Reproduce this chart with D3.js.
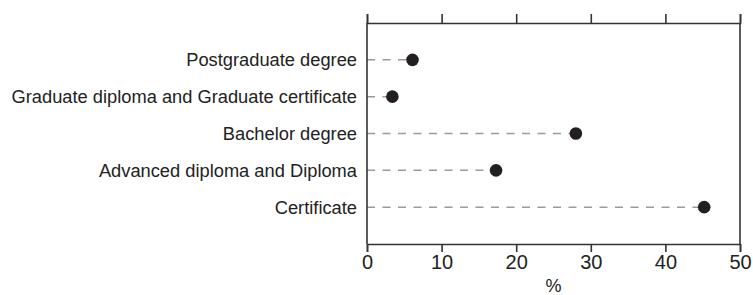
<!DOCTYPE html>
<html>
<head>
<meta charset="utf-8">
<script src="https://cdn.jsdelivr.net/npm/d3@7"></script>
<style>
body{margin:0;background:#fff;}
svg{display:block;font-family:"Liberation Sans",Arial,sans-serif;}
</style>
</head>
<body>
<script>
const categories=["Postgraduate degree","Graduate diploma and Graduate certificate","Bachelor degree","Advanced diploma and Diploma","Certificate"];
const values=[6.1,3.4,28.0,17.3,45.2];
const xTicks=[0,10,20,30,40,50];

const width=753,height=295,
plotLeft=367,plotRight=740,plotTop=23,plotBottom=244;

const svg=d3.select("body").append("svg")
  .attr("width",width)
  .attr("height",height);

const x=d3.scaleLinear().domain([0,50]).range([plotLeft,plotRight]);
const y=d3.scalePoint().domain(categories).range([plotTop,plotBottom]).padding(1);

const data=categories.map((c,i)=>({cat:c,val:values[i]}));

// dashed leaders
svg.selectAll(".lead").data(data).enter().append("line")
  .attr("class","lead")
  .attr("x1",x(0)).attr("x2",d=>x(d.val))
  .attr("y1",d=>y(d.cat)).attr("y2",d=>y(d.cat))
  .attr("stroke","#9a9a9a").attr("stroke-width",1.5)
  .attr("stroke-dasharray","8,7.5");

// frame: left, right
svg.append("line").attr("x1",plotLeft).attr("x2",plotLeft).attr("y1",plotTop).attr("y2",plotBottom)
  .attr("stroke","#333").attr("stroke-width",1.6);
svg.append("line").attr("x1",plotRight).attr("x2",plotRight).attr("y1",plotTop).attr("y2",plotBottom)
  .attr("stroke","#333").attr("stroke-width",1.6);

const xAxis=d3.axisBottom(x).tickValues(xTicks).tickSize(8).tickPadding(3);
const gx=svg.append("g").attr("transform",`translate(0,${plotBottom})`).call(xAxis);
gx.select(".domain").attr("stroke","#333").attr("stroke-width",1.6);
gx.selectAll(".tick line").attr("stroke","#333").attr("stroke-width",1.6);
gx.selectAll(".tick text").attr("font-size",20).attr("fill","#222")
  .attr("font-family","Liberation Sans,Arial,sans-serif");

const gt=svg.append("g").attr("transform",`translate(0,${plotTop})`)
  .call(d3.axisTop(x).tickValues(xTicks).tickSize(9).tickFormat(""));
gt.select(".domain").attr("stroke","#333").attr("stroke-width",1.6);
gt.selectAll(".tick line").attr("stroke","#333").attr("stroke-width",1.6);

// category labels
svg.selectAll(".lab").data(categories).enter().append("text")
  .attr("class","lab")
  .attr("x",plotLeft-10).attr("y",d=>y(d))
  .attr("dy","0.35em")
  .attr("text-anchor","end")
  .attr("font-size",18.3).attr("fill","#222")
  .text(d=>d);

// dots
svg.selectAll(".dot").data(data).enter().append("circle")
  .attr("class","dot")
  .attr("cx",d=>x(d.val)).attr("cy",d=>y(d.cat))
  .attr("r",6.3).attr("fill","#231f20");

svg.append("text")
  .attr("x",(plotLeft+plotRight)/2).attr("y",292)
  .attr("text-anchor","middle")
  .attr("font-size",18).attr("fill","#222")
  .text("%");
</script>
</body>
</html>
